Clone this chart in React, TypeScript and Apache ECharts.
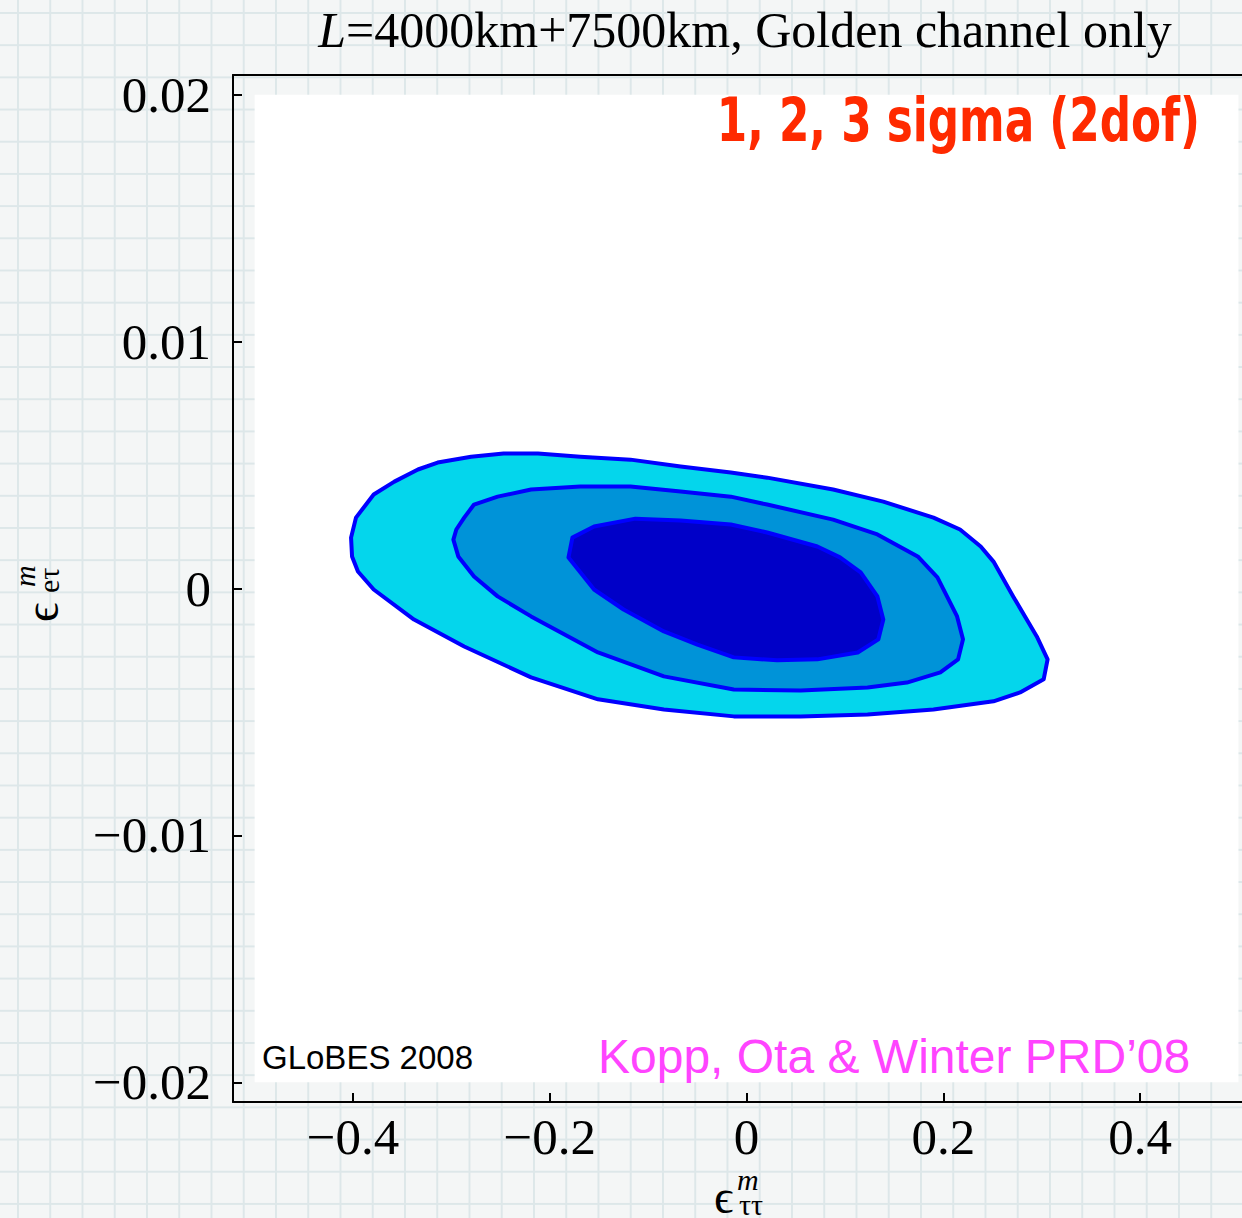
import React, { useEffect, useRef } from "react";
import * as echarts from "echarts";

// ---- data ----
const xTicks = [-0.4, -0.2, 0, 0.2, 0.4];
const yTicks = [-0.02, -0.01, 0, 0.01, 0.02];
const xRange = [-0.522, 0.5036];
const yRange = [-0.0208, 0.0208];
const frameX = [-0.5, 0.5];
const frameY = [-0.02, 0.02];

// 3 sigma contour (outer)
const sigma3: number[][] = [
  [-0.402, 0.00206], [-0.397, 0.00287], [-0.379, 0.00381], [-0.358, 0.00433],
  [-0.334, 0.00482], [-0.314, 0.0051], [-0.28, 0.00534], [-0.247, 0.00547],
  [-0.212, 0.00547], [-0.169, 0.00534], [-0.118, 0.00522], [-0.067, 0.00494],
  [-0.016, 0.0047], [0.021, 0.00449], [0.088, 0.00401], [0.139, 0.00352],
  [0.19, 0.00287], [0.217, 0.00239], [0.238, 0.0017], [0.251, 0.00109],
  [0.271, -0.00032], [0.295, -0.00194], [0.306, -0.00287], [0.302, -0.00368],
  [0.278, -0.00421], [0.251, -0.00457], [0.19, -0.0049], [0.123, -0.0051],
  [0.055, -0.00518], [-0.013, -0.00518], [-0.084, -0.0049], [-0.151, -0.00449],
  [-0.219, -0.0036], [-0.287, -0.00235], [-0.338, -0.00126], [-0.379, -0.00004],
  [-0.395, 0.00069], [-0.401, 0.0013],
];

// 2 sigma contour (middle)
const sigma2: number[][] = [
  [-0.298, 0.00198], [-0.295, 0.00239], [-0.287, 0.00287], [-0.277, 0.0034],
  [-0.253, 0.00372], [-0.219, 0.00401], [-0.169, 0.00413], [-0.118, 0.00413],
  [-0.067, 0.00393], [-0.016, 0.00372], [0.021, 0.0034], [0.088, 0.00279],
  [0.133, 0.00219], [0.174, 0.0013], [0.194, 0.00045], [0.214, -0.00113],
  [0.22, -0.00206], [0.215, -0.00287], [0.197, -0.0034], [0.163, -0.00381],
  [0.123, -0.00401], [0.055, -0.00413], [-0.013, -0.00409], [-0.084, -0.00356],
  [-0.151, -0.00259], [-0.219, -0.00113], [-0.253, -0.00032], [-0.277, 0.00049],
  [-0.293, 0.0013],
];

// 1 sigma contour (inner)
const sigma1: number[][] = [
  [-0.181, 0.00126], [-0.177, 0.00206], [-0.155, 0.00251], [-0.113, 0.00283],
  [-0.067, 0.00275], [-0.016, 0.00259], [0.021, 0.00227], [0.072, 0.0017],
  [0.095, 0.00126], [0.116, 0.00065], [0.133, -0.00032], [0.139, -0.00126],
  [0.134, -0.00206], [0.113, -0.00259], [0.072, -0.00287], [0.031, -0.00291],
  [-0.013, -0.00279], [-0.05, -0.00227], [-0.084, -0.00174], [-0.125, -0.00085],
  [-0.155, -0.00004],
];

const contours = [sigma3, sigma2, sigma1];
const contourNames = ["3 sigma", "2 sigma", "1 sigma"];
const contourFills = ["#04d6ec", "#0093d8", "#0000c8"];
const contourStroke = "#0000ff";

const titleText = "=4000km+7500km, Golden channel only";
const sigmaLabel = "1, 2, 3 sigma (2dof)";
const globesLabel = "GLoBES 2008";
const refLabel = "Kopp, Ota & Winter PRD\u201908";

const fmt = (v: number) => {
  if (Math.abs(v) < 1e-12) return "0";
  const s = String(Math.abs(Number(v.toPrecision(6))));
  return (v < 0 ? "\u2212" : "") + s;
};

const SERIF = "'Liberation Serif', 'Times New Roman', serif";
const SANS = "'Liberation Sans', Arial, sans-serif";

function symbolName(
  x: number,
  y: number,
  rotation: number,
  sub: string,
  mOff: number[],
  subOff: number[]
) {
  return {
    type: "group",
    x,
    y,
    rotation,
    children: [
      {
        type: "text",
        x: 0,
        y: 0,
        style: {
          text: "\u03f5",
          font: `48px ${SERIF}`,
          lineHeight: 22,
          fill: "#000",
          align: "left",
          verticalAlign: "middle",
        },
      },
      {
        type: "text",
        x: mOff[0],
        y: mOff[1],
        style: {
          text: "m",
          font: `italic 30px ${SERIF}`,
          lineHeight: 16,
          fill: "#000",
          align: "left",
          verticalAlign: "middle",
        },
      },
      {
        type: "text",
        x: subOff[0],
        y: subOff[1],
        style: {
          text: sub,
          font: `30px ${SERIF}`,
          lineHeight: 16,
          fill: "#000",
          align: "left",
          verticalAlign: "middle",
        },
      },
    ],
  };
}

export default function App() {
  const ref = useRef<HTMLDivElement>(null);

  useEffect(() => {
    if (!ref.current) return;
    const chart = echarts.init(ref.current, undefined, { renderer: "svg" });

    const axisLineStyle = { color: "#000", width: 2 };
    const labelStyle = {
      fontFamily: SERIF,
      fontSize: 51,
      color: "#000",
    };

    const frameSeries = {
      type: "custom",
      name: "frame",
      silent: true,
      z: 1,
      data: [[frameX[0], frameY[0]]],
      renderItem: (_p: any, api: any) => {
        const a = api.coord([frameX[0], frameY[1]]);
        const b = api.coord([frameX[1], frameY[0]]);
        return {
          type: "rect",
          shape: { x: a[0], y: a[1], width: b[0] - a[0], height: b[1] - a[1] },
          style: { fill: "#ffffff" },
        };
      },
    };

    const contourSeries = contours.map((pts, i) => ({
      type: "custom",
      name: contourNames[i],
      silent: true,
      z: 2 + i,
      clip: true,
      data: [pts[0]],
      renderItem: (_p: any, api: any) => ({
        type: "polygon",
        shape: { points: pts.map((p) => api.coord(p)) },
        style: {
          fill: contourFills[i],
          stroke: contourStroke,
          lineWidth: 4,
          lineJoin: "round",
        },
      }),
    }));

    chart.setOption({
      animation: false,
      backgroundColor: "transparent",
      grid: {
        left: 233,
        right: 0,
        top: 75,
        bottom: 116,
        containLabel: false,
        outerBoundsMode: "none",
      },
      xAxis: [
        {
          type: "value",
          min: xRange[0],
          max: xRange[1],
          position: "bottom",
          axisLine: { onZero: false, lineStyle: axisLineStyle },
          axisTick: {
            inside: true,
            length: 9,
            customValues: xTicks,
            lineStyle: axisLineStyle,
          },
          axisLabel: {
            customValues: xTicks,
            formatter: fmt,
            margin: 13,
            lineHeight: 44,
            ...labelStyle,
          },
          splitLine: { show: false },
        },
        {
          type: "value",
          min: xRange[0],
          max: xRange[1],
          position: "top",
          axisLine: { onZero: false, lineStyle: axisLineStyle },
          axisTick: { show: false },
          axisLabel: { show: false },
          splitLine: { show: false },
        },
      ],
      yAxis: {
        type: "value",
        min: yRange[0],
        max: yRange[1],
        position: "left",
        axisLine: { onZero: false, lineStyle: axisLineStyle },
        axisTick: {
          inside: true,
          length: 9,
          customValues: yTicks,
          lineStyle: axisLineStyle,
        },
        axisLabel: {
          customValues: yTicks,
          formatter: fmt,
          margin: 22,
          padding: [0, 0, 6, 0],
          ...labelStyle,
        },
        splitLine: { show: false },
      },
      graphic: [
        {
          type: "text",
          x: 745,
          y: 5,
          style: {
            text: "{i|L}{r|" + titleText + "}",
            fill: "#000",
            align: "center",
            verticalAlign: "top",
            rich: {
              i: { font: `italic 50px ${SERIF}`, fill: "#000" },
              r: { font: `50px ${SERIF}`, fill: "#000" },
            },
          },
        },
        {
          type: "text",
          x: 1200,
          y: 90,
          z: 100,
          scaleX: 0.81,
          style: {
            text: sigmaLabel,
            font: `bold 60px 'DejaVu Sans Condensed', 'DejaVu Sans', sans-serif`,
            fill: "#ff2a00",
            align: "right",
            verticalAlign: "top",
          },
        },
        {
          type: "text",
          x: 262,
          y: 1057,
          z: 100,
          style: {
            text: globesLabel,
            font: `33px ${SANS}`,
            fill: "#000",
            align: "left",
            verticalAlign: "middle",
          },
        },
        {
          type: "text",
          x: 598,
          y: 1056,
          z: 100,
          style: {
            text: refLabel,
            font: `48px ${SANS}`,
            fill: "#ff44ff",
            align: "left",
            verticalAlign: "middle",
          },
        },
        symbolName(714, 1196, 0, "\u03c4\u03c4", [23, -17], [25, 8]),
        symbolName(41, 622, Math.PI / 2, "e\u03c4", [35, -17], [29, 7]),
      ],
      series: [frameSeries, ...contourSeries],
    });

    return () => chart.dispose();
  }, []);

  return (
    <div
      ref={ref}
      style={{
        position: "absolute",
        left: 0,
        top: 0,
        width: 1242,
        height: 1218,
        backgroundColor: "#f4f6f6",
        backgroundImage:
          "linear-gradient(to right, #dde7e9 2px, transparent 2px), linear-gradient(to bottom, #dde7e9 2px, transparent 2px)",
        backgroundSize: "32.25px 32.2px",
        backgroundPosition: "17px 12px",
      }}
    />
  );
}
